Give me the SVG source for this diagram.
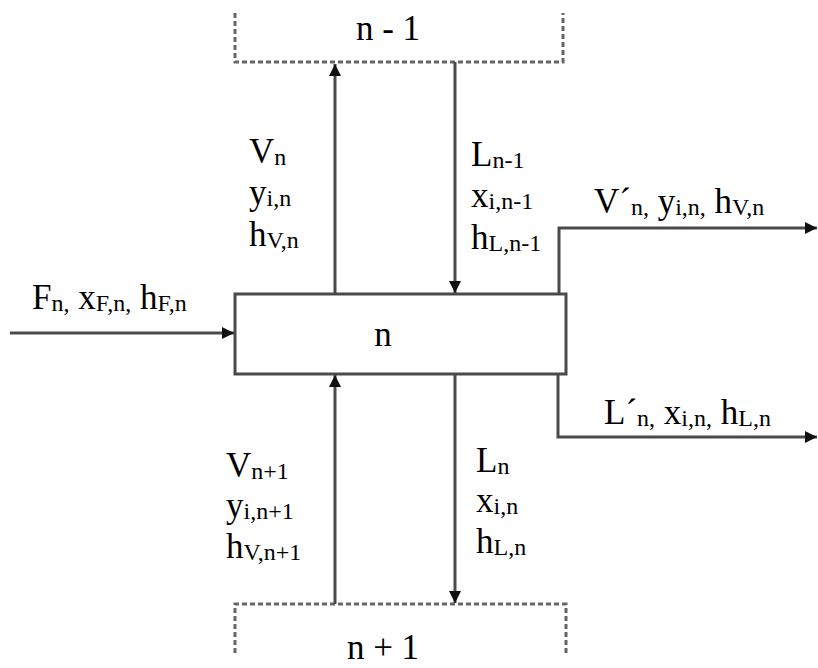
<svg xmlns="http://www.w3.org/2000/svg" width="818" height="668" viewBox="0 0 818 668">
<style>
text{font-family:"Liberation Serif","Times New Roman",serif;fill:#000;font-size:35px}
.s{font-size:24px}
.ln{stroke:#4a4a4a;stroke-width:3;fill:none}
.dash{stroke:#666;stroke-width:3;fill:none;stroke-dasharray:5 3}
</style>
<defs>
<marker id="ah" markerUnits="userSpaceOnUse" markerWidth="12" markerHeight="12" viewBox="0 0 12 12" refX="12" refY="6" orient="auto">
<path d="M0,0 L12,6 L0,12 Z" fill="#111"/>
</marker>
</defs>
<rect width="818" height="668" fill="#fff"/>

<g id="stage-n-1">
<path class="dash" d="M235,13 V62 H563 V13"/>
<text x="388" y="40" text-anchor="middle" font-size="33">n - 1</text>
</g>

<g id="stage-n">
<rect class="ln" x="235" y="294" width="331" height="80" fill="#fff"/>
<text x="383" y="346" text-anchor="middle">n</text>
</g>

<g id="stage-n+1">
<path class="dash" d="M235,653 V604 H566 V653"/>
<text x="383" y="659" text-anchor="middle" font-size="32">n + 1</text>
</g>

<g id="connectors">
<line class="ln" x1="335" y1="294" x2="335" y2="64" marker-end="url(#ah)"/>
<line class="ln" x1="455" y1="62" x2="455" y2="293" marker-end="url(#ah)"/>
<line class="ln" x1="335" y1="604" x2="335" y2="375" marker-end="url(#ah)"/>
<line class="ln" x1="455" y1="374" x2="455" y2="603" marker-end="url(#ah)"/>
<line class="ln" x1="10" y1="333" x2="234" y2="333" marker-end="url(#ah)"/>
<polyline class="ln" points="559,294 559,228 817,228" marker-end="url(#ah)"/>
<polyline class="ln" points="558,374 558,437 817,437" marker-end="url(#ah)"/>
</g>

<g id="labels">
<text x="249" y="163">V<tspan class="s" dy="2">n</tspan></text>
<text x="249" y="204">y<tspan class="s" dy="2">i,n</tspan></text>
<text x="249" y="246">h<tspan class="s" dy="2">V,n</tspan></text>

<text x="471" y="166">L<tspan class="s" dy="2">n-1</tspan></text>
<text x="471" y="207">x<tspan class="s" dy="2">i,n-1</tspan></text>
<text x="471" y="249">h<tspan class="s" dy="2">L,n-1</tspan></text>

<text x="226" y="477">V<tspan class="s" dy="2">n+1</tspan></text>
<text x="226" y="517">y<tspan class="s" dy="2">i,n+1</tspan></text>
<text x="226" y="558">h<tspan class="s" dy="2">V,n+1</tspan></text>

<text x="476" y="472">L<tspan class="s" dy="2">n</tspan></text>
<text x="476" y="512">x<tspan class="s" dy="2">i,n</tspan></text>
<text x="476" y="553">h<tspan class="s" dy="2">L,n</tspan></text>

<text x="32" y="309">F<tspan class="s" dy="2">n,</tspan><tspan dy="-2"> x</tspan><tspan class="s" dy="2">F,n,</tspan><tspan dy="-2"> h</tspan><tspan class="s" dy="2">F,n</tspan></text>

<text x="594" y="213">V´<tspan class="s" dy="2">n,</tspan><tspan dy="-2"> y</tspan><tspan class="s" dy="2">i,n,</tspan><tspan dy="-2"> h</tspan><tspan class="s" dy="2">V,n</tspan></text>

<text x="604" y="424">L´<tspan class="s" dy="2">n,</tspan><tspan dy="-2"> x</tspan><tspan class="s" dy="2">i,n,</tspan><tspan dy="-2"> h</tspan><tspan class="s" dy="2">L,n</tspan></text>
</g>
</svg>
